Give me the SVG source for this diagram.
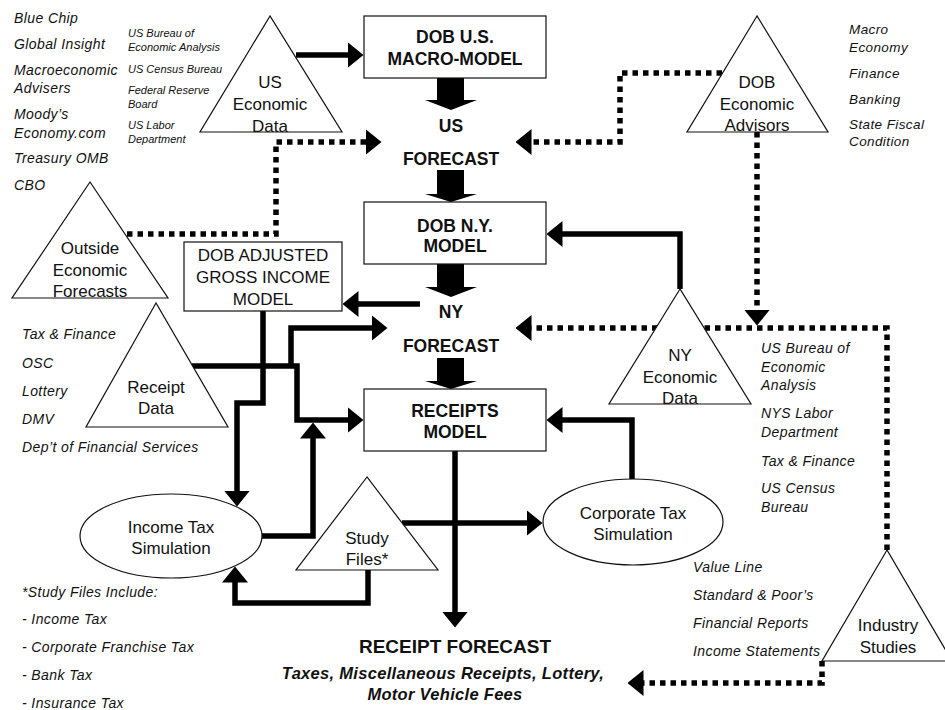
<svg xmlns="http://www.w3.org/2000/svg" width="945" height="710" viewBox="0 0 945 710">
<style>
text{font-family:"Liberation Sans",Arial,sans-serif;fill:#111}
.nt{font-size:17px;text-anchor:middle}
.bt{font-size:17.5px;font-weight:bold;text-anchor:middle}
.li{font-size:14px;font-style:italic;letter-spacing:0.4px}
.sm{font-size:11px;font-style:italic}
.shape{fill:#fff;stroke:#111;stroke-width:1.2}
.thick{fill:none;stroke:#000;stroke-width:5.5}
.dot{fill:none;stroke:#000;stroke-width:5.5;stroke-dasharray:5.5 5}
.blk{fill:#000}
.sub{font-size:16.5px;font-style:italic;letter-spacing:0.3px}
</style>
<defs>
<marker id="ah" markerUnits="userSpaceOnUse" markerWidth="16" markerHeight="26" viewBox="0 0 16 26" refX="0.5" refY="13" orient="auto">
<path d="M0,0 L16,13 L0,26 z" fill="#000"/>
</marker>
</defs>

<!-- side lists -->
<g id="list-outside">
<text class="li" x="14" y="23">Blue Chip</text>
<text class="li" x="14" y="49">Global Insight</text>
<text class="li" x="14" y="75">Macroeconomic</text>
<text class="li" x="14" y="93">Advisers</text>
<text class="li" x="14" y="119">Moody’s</text>
<text class="li" x="14" y="138">Economy.com</text>
<text class="li" x="14" y="163">Treasury OMB</text>
<text class="li" x="14" y="190">CBO</text>
</g>
<g id="list-us">
<text class="sm" x="128" y="37">US Bureau of</text>
<text class="sm" x="128" y="51">Economic Analysis</text>
<text class="sm" x="128" y="73">US Census Bureau</text>
<text class="sm" x="128" y="94">Federal Reserve</text>
<text class="sm" x="128" y="108">Board</text>
<text class="sm" x="128" y="129">US Labor</text>
<text class="sm" x="128" y="143">Department</text>
</g>
<g id="list-advisors">
<text class="li" x="849" y="34" style="font-size:13.5px">Macro</text>
<text class="li" x="849" y="52" style="font-size:13.5px">Economy</text>
<text class="li" x="849" y="78" style="font-size:13.5px">Finance</text>
<text class="li" x="849" y="104" style="font-size:13.5px">Banking</text>
<text class="li" x="849" y="129" style="font-size:13.5px">State Fiscal</text>
<text class="li" x="849" y="146" style="font-size:13.5px">Condition</text>
</g>
<g id="list-receipt">
<text class="li" x="22" y="339">Tax &amp; Finance</text>
<text class="li" x="22" y="368">OSC</text>
<text class="li" x="22" y="396">Lottery</text>
<text class="li" x="22" y="424">DMV</text>
<text class="li" x="22" y="452">Dep’t of Financial Services</text>
</g>
<g id="list-ny">
<text class="li" x="761" y="353">US Bureau of</text>
<text class="li" x="761" y="372">Economic</text>
<text class="li" x="761" y="390">Analysis</text>
<text class="li" x="761" y="418">NYS Labor</text>
<text class="li" x="761" y="437">Department</text>
<text class="li" x="761" y="466">Tax &amp; Finance</text>
<text class="li" x="761" y="493">US Census</text>
<text class="li" x="761" y="512">Bureau</text>
</g>
<g id="list-industry">
<text class="li" x="693" y="572">Value Line</text>
<text class="li" x="693" y="600">Standard &amp; Poor’s</text>
<text class="li" x="693" y="628">Financial Reports</text>
<text class="li" x="693" y="656">Income Statements</text>
</g>
<g id="list-study">
<text class="li" x="22" y="597">*Study Files Include:</text>
<text class="li" x="22" y="624">- Income Tax</text>
<text class="li" x="22" y="652">- Corporate Franchise Tax</text>
<text class="li" x="22" y="680">- Bank Tax</text>
<text class="li" x="22" y="708">- Insurance Tax</text>
</g>

<!-- connectors -->
<g id="connectors">
<path class="dot" d="M127,234 H276 V142 H366" marker-end="url(#ah)"/>
<path class="dot" d="M722,73 H620 V142 H531" marker-end="url(#ah)"/>
<path class="dot" d="M757,132 V310" marker-end="url(#ah)"/>
<path class="dot" d="M887,550 V328 H531" marker-end="url(#ah)"/>
<path class="dot" d="M822,661 V683 H643" marker-end="url(#ah)"/>

<path class="thick" d="M296,55 H348" marker-end="url(#ah)"/>
<path class="thick" d="M680,289 V234 H562" marker-end="url(#ah)"/>
<path class="thick" d="M420,304 H358" marker-end="url(#ah)"/>
<path class="thick" d="M263,311 V403 H237 V491" marker-end="url(#ah)"/>
<path class="thick" d="M192,366 H297 V420 H348" marker-end="url(#ah)"/>
<path class="thick" d="M291,366 V328 H372" marker-end="url(#ah)"/>
<path class="thick" d="M262,536 H313 V438" marker-end="url(#ah)"/>
<path class="thick" d="M368,570 V603 H235 V582" marker-end="url(#ah)"/>
<path class="thick" d="M402,523 H527" marker-end="url(#ah)"/>
<path class="thick" d="M455,451 V612" marker-end="url(#ah)"/>
<path class="thick" d="M632,479 V420 H562" marker-end="url(#ah)"/>

<path class="blk" d="M437,78 H464 V100 H477 L451,110 L425,100 H437 Z"/>
<path class="blk" d="M437,170 H464 V194 H477 L451,202 L425,194 H437 Z"/>
<path class="blk" d="M437,264 H464 V287 H477 L451,297 L425,287 H437 Z"/>
<path class="blk" d="M437,358 H464 V381 H477 L451,389 L425,381 H437 Z"/>
</g>

<!-- nodes -->
<g id="us-econ-data">
<polygon class="shape" points="270,16 200,132 342,132"/>
<text class="nt" x="270" y="88">US</text>
<text class="nt" x="270" y="110">Economic</text>
<text class="nt" x="270" y="132">Data</text>
</g>
<g id="macro-model">
<rect class="shape" x="364" y="16" width="182" height="62"/>
<text class="bt" x="455" y="43">DOB U.S.</text>
<text class="bt" x="455" y="65">MACRO-MODEL</text>
</g>
<g id="dob-advisors">
<polygon class="shape" points="757,16 687,132 828,132"/>
<text class="nt" x="757" y="88">DOB</text>
<text class="nt" x="757" y="110">Economic</text>
<text class="nt" x="757" y="131">Advisors</text>
</g>
<g id="us-forecast">
<text class="bt" x="451" y="132">US</text>
<text class="bt" x="451" y="165">FORECAST</text>
</g>
<g id="ny-model">
<rect class="shape" x="364" y="202" width="182" height="62"/>
<text class="bt" x="455" y="232">DOB N.Y.</text>
<text class="bt" x="455" y="252">MODEL</text>
</g>
<g id="outside-forecasts">
<polygon class="shape" points="90,182 12,298 168,298"/>
<text class="nt" x="90" y="254">Outside</text>
<text class="nt" x="90" y="276">Economic</text>
<text class="nt" x="90" y="297">Forecasts</text>
</g>
<g id="agi-model">
<rect class="shape" x="184" y="242" width="158" height="69"/>
<text class="nt" x="263" y="261">DOB ADJUSTED</text>
<text class="nt" x="263" y="283">GROSS INCOME</text>
<text class="nt" x="263" y="305">MODEL</text>
</g>
<g id="ny-forecast">
<text class="bt" x="451" y="318">NY</text>
<text class="bt" x="451" y="352">FORECAST</text>
</g>
<g id="receipt-data">
<polygon class="shape" points="156,303 86,427 228,427"/>
<text class="nt" x="156" y="393">Receipt</text>
<text class="nt" x="156" y="414">Data</text>
</g>
<g id="ny-econ-data">
<polygon class="shape" points="680,289 609,404 751,404"/>
<text class="nt" x="680" y="361">NY</text>
<text class="nt" x="680" y="383">Economic</text>
<text class="nt" x="680" y="404">Data</text>
</g>
<g id="receipts-model">
<rect class="shape" x="364" y="389" width="182" height="62"/>
<text class="bt" x="455" y="417">RECEIPTS</text>
<text class="bt" x="455" y="438">MODEL</text>
</g>
<g id="income-tax-sim">
<ellipse class="shape" cx="171" cy="536" rx="91" ry="42"/>
<text class="nt" x="171" y="533">Income Tax</text>
<text class="nt" x="171" y="554">Simulation</text>
</g>
<g id="study-files">
<polygon class="shape" points="367,477 296,570 438,570"/>
<text class="nt" x="367" y="544">Study</text>
<text class="nt" x="367" y="565">Files*</text>
</g>
<g id="corporate-tax-sim">
<ellipse class="shape" cx="633" cy="522" rx="90" ry="43"/>
<text class="nt" x="633" y="519">Corporate Tax</text>
<text class="nt" x="633" y="540">Simulation</text>
</g>
<g id="industry-studies">
<polygon class="shape" points="887,550 822,661 952,661"/>
<text class="nt" x="888" y="631">Industry</text>
<text class="nt" x="888" y="653">Studies</text>
</g>
<g id="receipt-forecast">
<text class="bt" x="455" y="653" style="font-size:19px">RECEIPT FORECAST</text>
<text class="bt sub" x="443" y="679">Taxes, Miscellaneous Receipts, Lottery,</text>
<text class="bt sub" x="445" y="700">Motor Vehicle Fees</text>
</g>
</svg>
